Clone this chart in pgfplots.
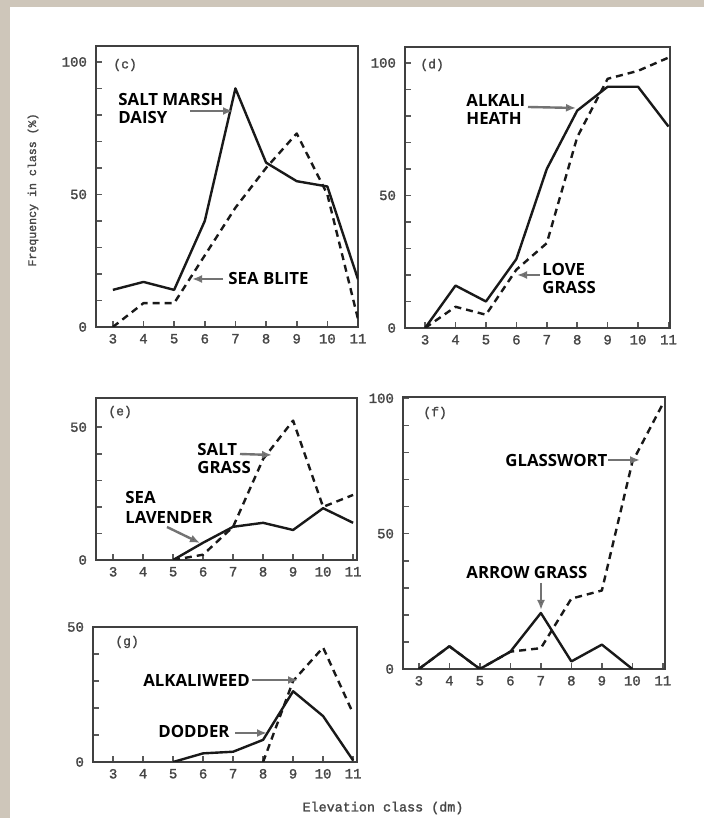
\documentclass[border=0pt]{standalone}
\usepackage{fontspec}
\setmainfont{Open Sans}
\newfontfamily\tickfont{Liberation Mono}[FakeBold=1.5]
\usepackage{pgfplots}
\pgfplotsset{compat=1.18}
\usetikzlibrary{arrows.meta}
\definecolor{beige}{RGB}{206,198,186}
\definecolor{tickgray}{RGB}{70,70,70}
\newcommand\annfont{\bfseries\fontsize{8.4}{10}\selectfont}
\pgfplotsset{
  panel/.style={
    scale only axis, anchor=south west, ymin=0,
    axis line style={line width=1pt, black!75},
    tick style={line width=0.8pt, black!65},
    major tick length=3pt,
    tick pos=left, tick align=inside,
    xtick={3,...,11},
    ticklabel style={font=\tickfont\fontsize{7}{8}\selectfont, text=tickgray},
    yticklabel style={xshift=-1pt},
    /pgf/number format/assume math mode=true,
  },
  sline/.style={black!90, line width=1.2pt, line join=round, mark=none},
  dline/.style={black!90, line width=1.2pt, line join=round, mark=none, dash pattern=on 3.5pt off 2.5pt},
}
\begin{document}
\begin{tikzpicture}
\path[use as bounding box] (0,0) rectangle (352pt,409pt);
\fill[beige] (0,0) rectangle (352pt,409pt);
\fill[white] (5pt,0) rectangle (352pt,405.5pt);

% (c)
\begin{axis}[panel, at={(48pt,245.5pt)}, width=131pt, height=140.5pt,
  xmin=2.45, xmax=11, ymax=106, ytick={0,10,...,100}, yticklabels={0,,,,,50,,,,,100}]
\addplot[sline] coordinates {(3,14)(4,17)(5,14)(6,40)(7,90)(8,62)(9,55)(10,53)(11,18)};
\addplot[dline] coordinates {(3,0)(4,9)(5,9)(6,27)(7,45)(8,60)(9,73)(10,50)(11,3)};
\end{axis}

% (d)
\begin{axis}[panel, at={(202.5pt,245pt)}, width=132.5pt, height=140.5pt,
  xmin=2.34, xmax=11.05, ymax=106, ytick={0,10,...,100}, yticklabels={0,,,,,50,,,,,100}]
\addplot[sline] coordinates {(3,0)(4,16)(5,10)(6,26)(7,60)(8,82)(9,91)(10,91)(11,76)};
\addplot[dline] coordinates {(3,0)(4,8)(5,5)(6,22)(7,32)(8,72)(9,94)(10,97)(11,102)};
\end{axis}

% (e)
\begin{axis}[panel, at={(48pt,129pt)}, width=130.5pt, height=81pt,
  xmin=2.43, xmax=11.13, ymax=61, ytick={0,10,...,50}, yticklabels={0,,,,,50}]
\addplot[sline] coordinates {(5,0)(6,6.5)(7,12.5)(8,14)(9,11.3)(10,19.5)(11,14)};
\addplot[dline] coordinates {(5,0)(6,2)(7,12.5)(8,38)(9,52.5)(10,20)(11,24.5)};
\end{axis}

% (f)
\begin{axis}[panel, at={(201.5pt,74.5pt)}, width=131pt, height=136pt,
  xmin=2.48, xmax=11.07, ymax=100.5, ytick={0,10,...,100}, yticklabels={0,,,,,50,,,,,100}]
\addplot[sline] coordinates {(3,0)(4,8.4)(5,0)(6,6.4)(7,20.7)(8,2.8)(9,9)(10,0)};
\addplot[dline] coordinates {(3,0)(4,8.4)(5,0)(6,6.4)(7,7.7)(8,26)(9,29)(10,76.5)(11,98)};
\end{axis}

% (g)
\begin{axis}[panel, at={(46.5pt,28pt)}, width=132pt, height=67.5pt,
  xmin=2.33, xmax=11.13, ymax=50, ytick={0,10,...,50}, yticklabels={0,,,,,50}]
\addplot[sline] coordinates {(5,0)(6,3.2)(7,3.8)(8,8.2)(9,26.2)(10,17)(11,0.6)};
\addplot[dline] coordinates {(8,0)(9,30)(10,42.4)(11,18)};
\end{axis}

\begin{scope}[x=0.5pt, y=-0.5pt, yshift=409pt,
  ann/.style={anchor=west, inner sep=0pt, font=\annfont},
  arr/.style={draw=black!55, line width=1.2pt, -{Latex[length=5pt,width=4pt,fill=black!80]}},
  plab/.style={anchor=west, inner sep=0pt, font=\tickfont\fontsize{6.5}{7}\selectfont, text=tickgray}]
% panel labels
\node[plab] at (113,65) {(c)};
\node[plab] at (420,65) {(d)};
\node[plab] at (108,412) {(e)};
\node[plab] at (423,413) {(f)};
\node[plab] at (115,642) {(g)};
% annotations
\node[ann] at (118,100) {SALT MARSH};
\node[ann] at (118,118) {DAISY};
\draw[arr] (190,111) -- (233,111);
\node[ann] at (228,279) {SEA BLITE};
\draw[arr] (223,279) -- (192,279);
\node[ann] at (466,100) {ALKALI};
\node[ann] at (466,118) {HEATH};
\draw[arr] (528,107) -- (576,108);
\node[ann] at (542,270) {LOVE};
\node[ann] at (542,288) {GRASS};
\draw[arr] (540,275) -- (517,275);
\node[ann] at (197,450) {SALT};
\node[ann] at (197,468) {GRASS};
\draw[arr] (240,454) -- (272,455);
\node[ann] at (125,498) {SEA};
\node[ann] at (125,517) {LAVENDER};
\draw[arr] (167,527) -- (200,543);
\node[ann] at (505,460) {GLASSWORT};
\draw[arr] (608,460) -- (640,460);
\node[ann] at (466,572) {ARROW GRASS};
\draw[arr] (541,583) -- (541,610);
\node[ann] at (143,680) {ALKALIWEED};
\draw[arr] (252,680) -- (298,680);
\node[ann] at (158,731) {DODDER};
\draw[arr] (235,733) -- (267,733);
% axis titles
\node[rotate=90, inner sep=0pt, font=\tickfont\fontsize{5.8}{7}\selectfont, text=tickgray] at (33,190) {Frequency in class (\%)};
\node[inner sep=0pt, font=\tickfont\fontsize{6.7}{8}\selectfont, text=tickgray] at (383,808) {Elevation class (dm)};
\end{scope}
\end{tikzpicture}
\end{document}
